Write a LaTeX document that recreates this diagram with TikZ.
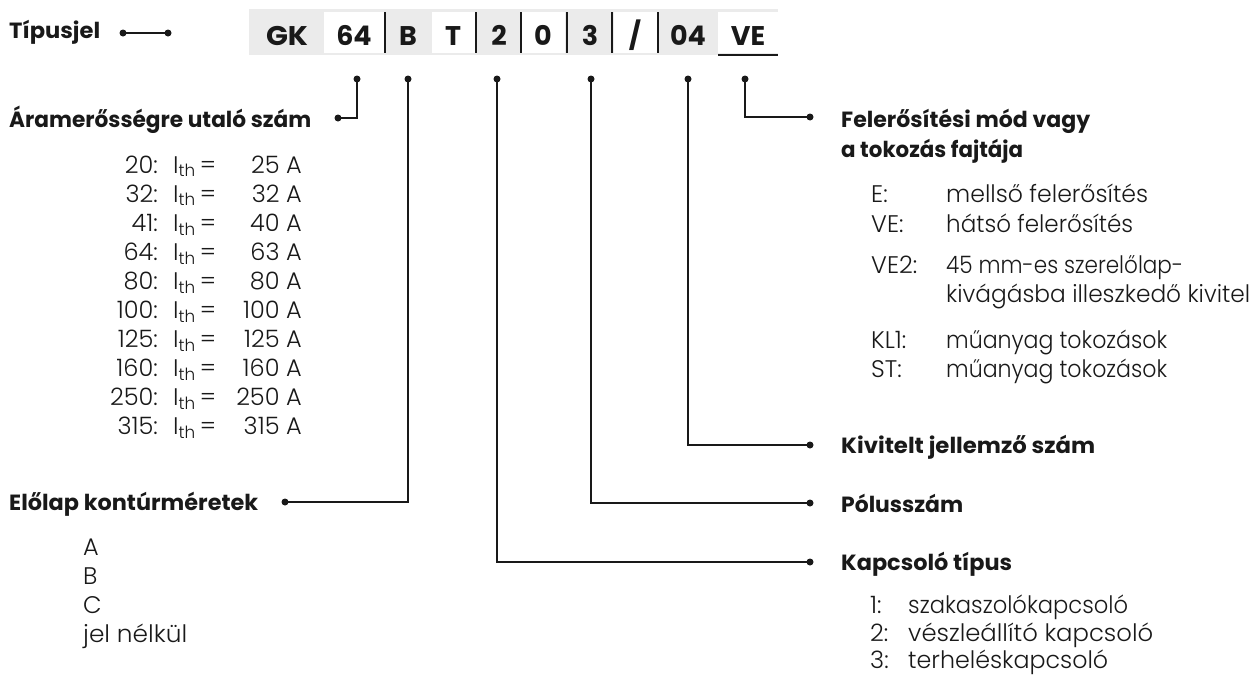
\documentclass[tikz,border=0pt]{standalone}
\usepackage{fontspec}
\setmainfont{Poppins}
\newfontfamily\lightfont{Poppins Light}
\newcommand\fitw[2]{\resizebox{#1pt}{\height}{#2}}
\begin{document}
\begin{tikzpicture}[x=1pt,y=-1pt,
  head/.style={font=\fontsize{22}{26}\selectfont\bfseries, text=black!90, inner sep=0pt, anchor=base west},
  body/.style={font=\lightfont\fontsize{24}{28}\selectfont, text=black!90, inner sep=0pt},
  code/.style={font=\fontsize{27}{30}\selectfont\bfseries, text=black!90, inner sep=0pt, anchor=base},
  conn/.style={line width=2pt, black!90},
  dot/.style={circle, fill=black!90, inner sep=0pt, minimum size=7pt},
  sep/.style={line width=2pt, black!90}]
\useasboundingbox (0,0) rectangle (1252,675);
% code bar
\fill[black!8] (249,9) rectangle (778,55);
\foreach \a/\b in {324/384, 432/475, 522/565, 614/657, 718/778}
  \fill[white] (\a,12) rectangle (\b,53);
\foreach \s in {385,476,521,567,612,658}
  \draw[sep] (\s,12) -- (\s,53);
\draw[sep] (718,55) -- (778,55);
\node[code] (cGK) at (287,45) {\fitw{42}{GK}};
\node[code] (c64) at (354,45) {64};
\node[code] (cB) at (408,45) {B};
\node[code] (cT) at (453,45) {T};
\node[code] (c2) at (499,45) {2};
\node[code] (c0) at (543,45) {0};
\node[code] (c3) at (590,45) {3};
\node[code] (cS) at (635,45) {/};
\node[code] (c04) at (688,45) {04};
\node[code] (cVE) at (748,45) {VE};
% headings
\node[head] (tip) at (9,38) {\fitw{91}{Típusjel}};
\node[head] (aram) at (9,127) {\fitw{302}{Áramerősségre utaló szám}};
\node[head] (elo) at (9,510) {\fitw{249}{Előlap kontúrméretek}};
\node[head] (fel) at (841,127) {\fitw{249}{Felerősítési mód vagy}};
\node[head] (fel2) at (841,157) {\fitw{182}{a tokozás fajtája}};
\node[head] (kiv) at (841,453) {\fitw{254}{Kivitelt jellemző szám}};
\node[head] (pol) at (841,512) {\fitw{122}{Pólusszám}};
\node[head] (kap) at (841,570) {\fitw{171}{Kapcsoló típus}};
% dots
\node[dot] (t1) at (123,33) {};
\node[dot] (t2) at (168,33) {};
\node[dot] (d64) at (357,79) {};
\node[dot] (dB) at (408,79) {};
\node[dot] (d2) at (497,79) {};
\node[dot] (d3) at (591,79) {};
\node[dot] (d04) at (688,79) {};
\node[dot] (dVE) at (745,79) {};
\node[dot] (h64) at (338,118) {};
\node[dot] (hB) at (285,502) {};
\node[dot] (h2) at (810,562) {};
\node[dot] (h3) at (810,503) {};
\node[dot] (h04) at (810,445) {};
\node[dot] (hVE) at (810,117) {};
% connectors
\draw[conn] (t1.center) -- (t2.center);
\draw[conn] (d64.center) |- (h64.center);
\draw[conn] (dB.center) |- (hB.center);
\draw[conn] (d2.center) |- (h2.center);
\draw[conn] (d3.center) |- (h3.center);
\draw[conn] (d04.center) |- (h04.center);
\draw[conn] (dVE.center) |- (hVE.center);
% current table
\foreach \n/\v [count=\i from 0] in {20/25,32/32,41/40,64/63,80/80,100/100,125/125,160/160,250/250,315/315} {
  \node[body, anchor=base east] (rn\i) at (158,{173+29.1*\i}) {\n:};
  \node[body, anchor=base west] (ri\i) at (173,{173+29.1*\i}) {I\textsubscript{th}\,=};
  \node[body, anchor=base east] (rv\i) at (302,{173+29.1*\i}) {\v\ A};
}
% front panel list
\node[body, anchor=base west] (la) at (83,555) {A};
\node[body, anchor=base west] (lb) at (83,584) {B};
\node[body, anchor=base west] (lc) at (83,613) {C};
\node[body, anchor=base west] (ld) at (83,642) {\fitw{104}{jel nélkül}};
% mounting list
\node[body, anchor=base west] (mk1) at (871,202) {E:};
\node[body, anchor=base west] (mv1) at (946,202) {\fitw{202}{mellső felerősítés}};
\node[body, anchor=base west] (mk2) at (871,232) {VE:};
\node[body, anchor=base west] (mv2) at (946,232) {\fitw{187}{hátsó felerősítés}};
\node[body, anchor=base west] (mk3) at (871,273) {VE2:};
\node[body, anchor=base west] (mv3) at (946,273) {\fitw{237}{45 mm-es szerelőlap-}};
\node[body, anchor=base west] (mv3b) at (946,302) {\fitw{304}{kivágásba illeszkedő kivitel}};
\node[body, anchor=base west] (mk4) at (871,348) {KL1:};
\node[body, anchor=base west] (mv4) at (946,348) {\fitw{221}{műanyag tokozások}};
\node[body, anchor=base west] (mk5) at (871,377) {ST:};
\node[body, anchor=base west] (mv5) at (946,377) {\fitw{221}{műanyag tokozások}};
% switch type list
\node[body, anchor=base west] (sk1) at (870,613) {1:};
\node[body, anchor=base west] (sv1) at (908,613) {\fitw{220}{szakaszolókapcsoló}};
\node[body, anchor=base west] (sk2) at (870,641) {2:};
\node[body, anchor=base west] (sv2) at (908,641) {\fitw{245}{vészleállító kapcsoló}};
\node[body, anchor=base west] (sk3) at (870,668) {3:};
\node[body, anchor=base west] (sv3) at (908,668) {\fitw{200}{terheléskapcsoló}};
\end{tikzpicture}
\end{document}
